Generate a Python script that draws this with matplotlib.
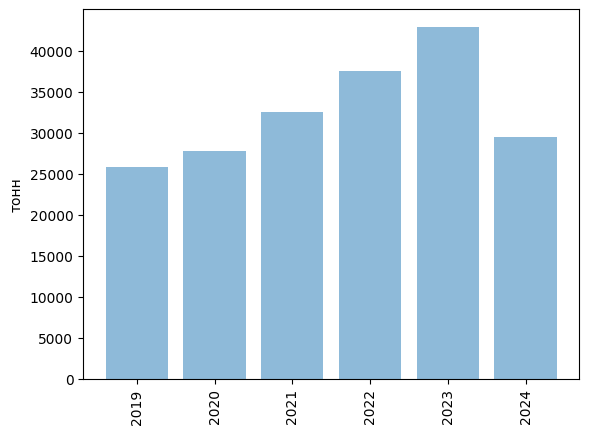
import matplotlib.pyplot as plt
import numpy as np

years = ['2019', '2020', '2021', '2022', '2023', '2024']
tonnes = [25800, 27800, 32600, 37500, 42900, 29500]

pos = np.arange(len(years))

plt.figure(figsize=(6.4, 4.8), dpi=100)
plt.bar(pos, tonnes, align='center', alpha=0.5)
plt.xticks(pos, years, rotation='vertical')
plt.yticks(np.arange(0, 45000, 5000))
plt.ylabel('тонн')
plt.savefig('out.png', bbox_inches='tight')
